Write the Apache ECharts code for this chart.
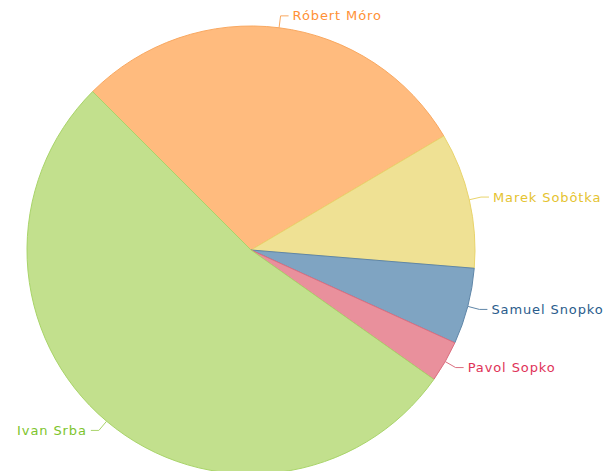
<!DOCTYPE html>
<html>
<head>
<meta charset="utf-8">
<script src="https://cdn.jsdelivr.net/npm/echarts@6/dist/echarts.min.js"></script>
<style>
  html, body { margin: 0; padding: 0; background: #fff; }
  #chart { width: 608px; height: 471px; }
  /* slightly tracked label lettering */
  #chart svg text { letter-spacing: 0.9px; }
</style>
</head>
<body>
<div id="chart"></div>
<script>
// Share of each person (percent), drawn clockwise from the upper-left
const names = ['Róbert Móro', 'Marek Sobôtka', 'Samuel Snopko', 'Pavol Sopko', 'Ivan Srba'];
const shares = [29.0, 9.8, 5.5, 3.0, 52.7];

const fillColors = ['#FFBB7E', '#EFE194', '#7FA4C2', '#E9909C', '#C2E08D'];
const edgeColors = ['#F9A860', '#E9D46C', '#5F86A8', '#DB6F80', '#A9D46A'];
const textColors = ['#FF9136', '#E5C32F', '#2A5C8C', '#E03258', '#7DC42C'];

const chart = echarts.init(document.getElementById('chart'), null, { renderer: 'svg' });

chart.setOption({
  backgroundColor: '#ffffff',
  animation: false,
  series: [{
    type: 'pie',
    center: [251, 250],
    radius: 224,
    startAngle: 135,
    clockwise: true,
    avoidLabelOverlap: false,
    label: {
      show: true,
      position: 'outside',
      fontFamily: 'DejaVu Sans',
      fontSize: 13,
      padding: [5, 0, 0, 0],
      distanceToLabelLine: 4
    },
    labelLine: {
      show: true,
      length: 12,
      length2: 8,
      smooth: false,
      lineStyle: { width: 1 }
    },
    data: names.map((n, i) => ({
      name: n,
      value: shares[i],
      itemStyle: { color: fillColors[i], borderColor: edgeColors[i], borderWidth: 1 },
      label: { color: textColors[i] },
      labelLine: { lineStyle: { color: edgeColors[i] } }
    }))
  }]
});
</script>
</body>
</html>
